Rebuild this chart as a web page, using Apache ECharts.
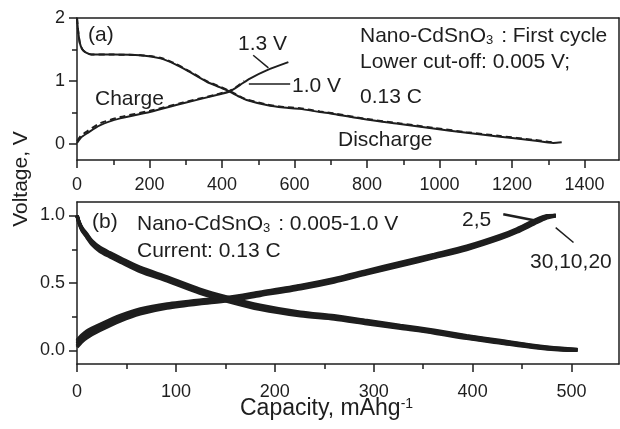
<!DOCTYPE html>
<html>
<head>
<meta charset="utf-8">
<script src="https://cdn.jsdelivr.net/npm/echarts@6/dist/echarts.min.js"></script>
<style>html,body{margin:0;padding:0;background:#fff}#c{width:620px;height:429px}</style>
</head>
<body>
<div id="c"></div>
<script>
// ---- Panel (a): first cycle ----
const capA_dis = [0,3,8,15,25,40,100,175,230,270,303,358,395,422,445,468,523,570,615,670,707,799,891,983,1075,1167,1259,1314,1337];
const volA_dis = [2.0,1.8,1.6,1.5,1.45,1.42,1.42,1.41,1.36,1.27,1.17,0.99,0.90,0.83,0.76,0.70,0.62,0.58,0.56,0.51,0.48,0.39,0.32,0.25,0.18,0.12,0.06,0.02,0.03];
const capA_dis2 = [0,3,8,15,25,40,100,175,230,270,303,358,395,422,445,468,523,570,615,670,707,799,891,983,1075,1167,1259,1300,1320];
const volA_dis2 = [2.0,1.8,1.6,1.5,1.45,1.42,1.42,1.41,1.37,1.28,1.18,1.0,0.91,0.84,0.77,0.71,0.63,0.59,0.57,0.52,0.49,0.40,0.33,0.26,0.19,0.13,0.07,0.04,0.03];
const capA_chg = [0,10,27,63,119,201,293,385,422,450,477,523,583];
const volA_chg = [0.02,0.10,0.17,0.30,0.41,0.51,0.65,0.78,0.84,0.94,1.04,1.17,1.30];
const capA_chg2 = [0,10,27,63,119,201,293,385,422,445,462];
const volA_chg2 = [0.05,0.13,0.20,0.33,0.43,0.53,0.66,0.79,0.85,0.93,1.0];
const ticksAx = [0,200,400,600,800,1000,1200,1400];
const minorAx = [100,300,500,700,900,1100,1300];
const ticksAy = [0,1,2];
const minorAy = [0.5,1.5];

// ---- Panel (b): cycles 2,5,10,20,30 ----
const capB_dis = [0,2,5,10,15,23,33,44,64,91,124,152,185,226,260,293,327,361,394,428,462,490,506];
const disC2  = [1.0,0.955,0.91,0.862,0.813,0.765,0.725,0.685,0.615,0.545,0.455,0.395,0.335,0.283,0.257,0.222,0.186,0.15,0.11,0.074,0.038,0.016,0.008];
const disC5  = [1.0,0.952,0.905,0.856,0.806,0.757,0.717,0.677,0.607,0.537,0.447,0.387,0.327,0.276,0.251,0.216,0.18,0.145,0.105,0.069,0.034,0.013,0.006];
const disC10 = [1.0,0.95,0.90,0.85,0.80,0.75,0.71,0.67,0.60,0.53,0.44,0.38,0.32,0.27,0.245,0.21,0.175,0.14,0.10,0.065,0.03,0.01,0.005];
const disC20 = [1.0,0.948,0.895,0.844,0.794,0.743,0.703,0.663,0.593,0.523,0.433,0.373,0.313,0.264,0.239,0.204,0.17,0.135,0.095,0.061,0.026,0.007,0.004];
const disC30 = [1.0,0.945,0.89,0.838,0.787,0.735,0.695,0.655,0.585,0.515,0.425,0.365,0.305,0.257,0.233,0.198,0.164,0.13,0.09,0.056,0.022,0.004,0.002];
const capB_chg = [0,5,10,23,44,64,91,124,152,185,226,260,293,327,361,394,428,445,462,475,484];
const chgC2  = [0.075,0.115,0.145,0.192,0.26,0.308,0.345,0.373,0.392,0.432,0.482,0.532,0.592,0.652,0.712,0.772,0.852,0.902,0.962,0.998,1.0];
const chgC5  = [0.062,0.102,0.132,0.181,0.25,0.299,0.337,0.366,0.386,0.426,0.476,0.526,0.586,0.646,0.706,0.766,0.846,0.896,0.956,0.994,1.0];
const chgC10 = [0.05,0.09,0.12,0.17,0.24,0.29,0.33,0.36,0.38,0.42,0.47,0.52,0.58,0.64,0.70,0.76,0.84,0.89,0.95,0.99,1.0];
const chgC20 = [0.038,0.078,0.108,0.159,0.23,0.281,0.323,0.354,0.374,0.414,0.464,0.514,0.574,0.634,0.694,0.754,0.834,0.884,0.944,0.986,1.0];
const chgC30 = [0.025,0.065,0.095,0.148,0.22,0.272,0.315,0.347,0.368,0.408,0.458,0.508,0.568,0.628,0.688,0.748,0.828,0.878,0.938,0.982,0.998];
const ticksBx = [0,100,200,300,400,500];
const minorBx = [50,150,250,350,450];
const ticksBy = [0,0.5,1.0];
const minorBy = [0.25,0.75];

const FONT = '"Liberation Sans", Arial, Helvetica, sans-serif';
const INK = '#1e1e1e';
const zip = (xs, ys) => xs.map((x, i) => [x, ys[i]]);
const AXL = {show:true, onZero:false, lineStyle:{color:INK, width:1.5}};
const NOL = {show:false, onZero:false};

function mainX(grid, min, max, ticks, margin) {
  return { type:'value', gridIndex:grid, min, max, position:'bottom',
    axisLine:AXL, splitLine:{show:false},
    axisTick:{show:true, customValues:ticks, length:8, lineStyle:{color:INK, width:1.5}},
    axisLabel:{show:true, customValues:ticks, margin, color:INK, fontSize:18, fontFamily:FONT, formatter:v => String(v)} };
}
function minorX(grid, min, max, ticks) {
  return { type:'value', gridIndex:grid, min, max, position:'bottom',
    axisLine:NOL, splitLine:{show:false},
    axisTick:{show:true, customValues:ticks, length:5, lineStyle:{color:INK, width:1.5}},
    axisLabel:{show:false} };
}
function frameX(grid, min, max) {
  return { type:'value', gridIndex:grid, min, max, position:'top',
    axisLine:AXL, splitLine:{show:false}, axisTick:{show:false}, axisLabel:{show:false} };
}
function mainY(grid, min, max, ticks, fmt) {
  return { type:'value', gridIndex:grid, min, max, position:'left',
    axisLine:AXL, splitLine:{show:false},
    axisTick:{show:true, customValues:ticks, length:8, lineStyle:{color:INK, width:1.5}},
    axisLabel:{show:true, customValues:ticks, margin:12, color:INK, fontSize:18, fontFamily:FONT, formatter:fmt} };
}
function minorY(grid, min, max, ticks) {
  return { type:'value', gridIndex:grid, min, max, position:'left', offset:0,
    axisLine:NOL, splitLine:{show:false},
    axisTick:{show:true, customValues:ticks, length:5, lineStyle:{color:INK, width:1.5}},
    axisLabel:{show:false} };
}
function frameY(grid, min, max) {
  return { type:'value', gridIndex:grid, min, max, position:'right', offset:0,
    axisLine:AXL, splitLine:{show:false}, axisTick:{show:false}, axisLabel:{show:false} };
}
function line(xi, yi, data, opts) {
  return Object.assign({ type:'line', xAxisIndex:xi, yAxisIndex:yi, data, showSymbol:false, symbol:'none',
    smooth:0.25, silent:true, animation:false,
    lineStyle:{color:INK, width:2} }, opts || {});
}
function arrow(from, to, w) {
  return { silent:true, animation:false, symbol:['none','arrow'], symbolSize:[0, 9],
    label:{show:false}, lineStyle:{type:'solid', color:INK, width:w || 1.5},
    data:[[{coord:from},{coord:to}]] };
}
function txt(x, y, text, size, extra) {
  return Object.assign({ type:'text', x, y, silent:true,
    style:{ text, fill:INK, font:(size || 21) + 'px ' + FONT, align:'left', verticalAlign:'middle',
      rich:{ sub:{ font:'13px ' + FONT, fill:INK, verticalAlign:'bottom', padding:[0,2,0,0] },
             sup:{ font:'14px ' + FONT, fill:INK, verticalAlign:'top' } } } }, extra || {});
}
const band = {color:INK, width:3.5};

const chart = echarts.init(document.getElementById('c'), null, {renderer:'canvas'});
chart.setOption({
  animation:false,
  backgroundColor:'#fff',
  grid:[
    {left:77, top:18, width:542, height:142, outerBoundsMode:'none', containLabel:false},
    {left:77, top:202, width:542, height:162, outerBoundsMode:'none', containLabel:false}
  ],
  xAxis:[ mainX(0,0,1495,ticksAx,16), minorX(0,0,1495,minorAx), mainX(1,0,548,ticksBx,19), minorX(1,0,548,minorBx),
          frameX(0,0,1495), frameX(1,0,548) ],
  yAxis:[ mainY(0,-0.25,2,ticksAy, v => String(v)), minorY(0,-0.25,2,minorAy),
          mainY(1,-0.1,1.1,ticksBy, v => v.toFixed(1)), minorY(1,-0.1,1.1,minorBy),
          frameY(0,-0.25,2), frameY(1,-0.1,1.1) ],
  series:[
    line(0,0, zip(capA_dis2, volA_dis2), {lineStyle:{color:INK, width:2, type:[6,4]}}),
    line(0,0, zip(capA_chg2, volA_chg2), {lineStyle:{color:INK, width:2, type:[6,4]}}),
    line(0,0, zip(capA_dis, volA_dis), {markLine: arrow([486,1.41],[528,1.21])}),
    line(0,0, zip(capA_chg, volA_chg), {markLine: arrow([588,0.965],[474,0.965])}),
    line(2,2, zip(capB_dis, disC2),  {lineStyle:band}),
    line(2,2, zip(capB_dis, disC5),  {lineStyle:band}),
    line(2,2, zip(capB_dis, disC10), {lineStyle:band}),
    line(2,2, zip(capB_dis, disC20), {lineStyle:band}),
    line(2,2, zip(capB_dis, disC30), {lineStyle:band}),
    line(2,2, zip(capB_chg, chgC2),  {lineStyle:band, markLine: arrow([431,1.01],[462,0.965],2.5)}),
    line(2,2, zip(capB_chg, chgC5),  {lineStyle:band}),
    line(2,2, zip(capB_chg, chgC10), {lineStyle:band, markLine: arrow([502,0.80],[484,0.91],1.5)}),
    line(2,2, zip(capB_chg, chgC20), {lineStyle:band}),
    line(2,2, zip(capB_chg, chgC30), {lineStyle:band})
  ],
  graphic:[
    txt(88, 35, '(a)'),
    txt(238, 44, '1.3 V'),
    txt(292, 86, '1.0 V'),
    txt(95, 99, 'Charge'),
    txt(338, 140, 'Discharge'),
    txt(360, 36, 'Nano-CdSnO{sub|3} : First cycle'),
    txt(360, 62, 'Lower cut-off: 0.005 V;'),
    txt(360, 97, '0.13 C'),
    txt(92, 222, '(b)'),
    txt(137, 224, 'Nano-CdSnO{sub|3} : 0.005-1.0 V'),
    txt(137, 251, 'Current: 0.13 C'),
    txt(462, 220, '2,5'),
    txt(530, 262, '30,10,20'),
    {type:'text', x:21, y:179, rotation:Math.PI/2, silent:true,
     style:{text:'Voltage, V', fill:INK, font:'21px ' + FONT, align:'center', verticalAlign:'middle'}},
    txt(240, 409, 'Capacity, mAhg{sup|-1}', 23)
  ]
});
</script>
</body>
</html>
